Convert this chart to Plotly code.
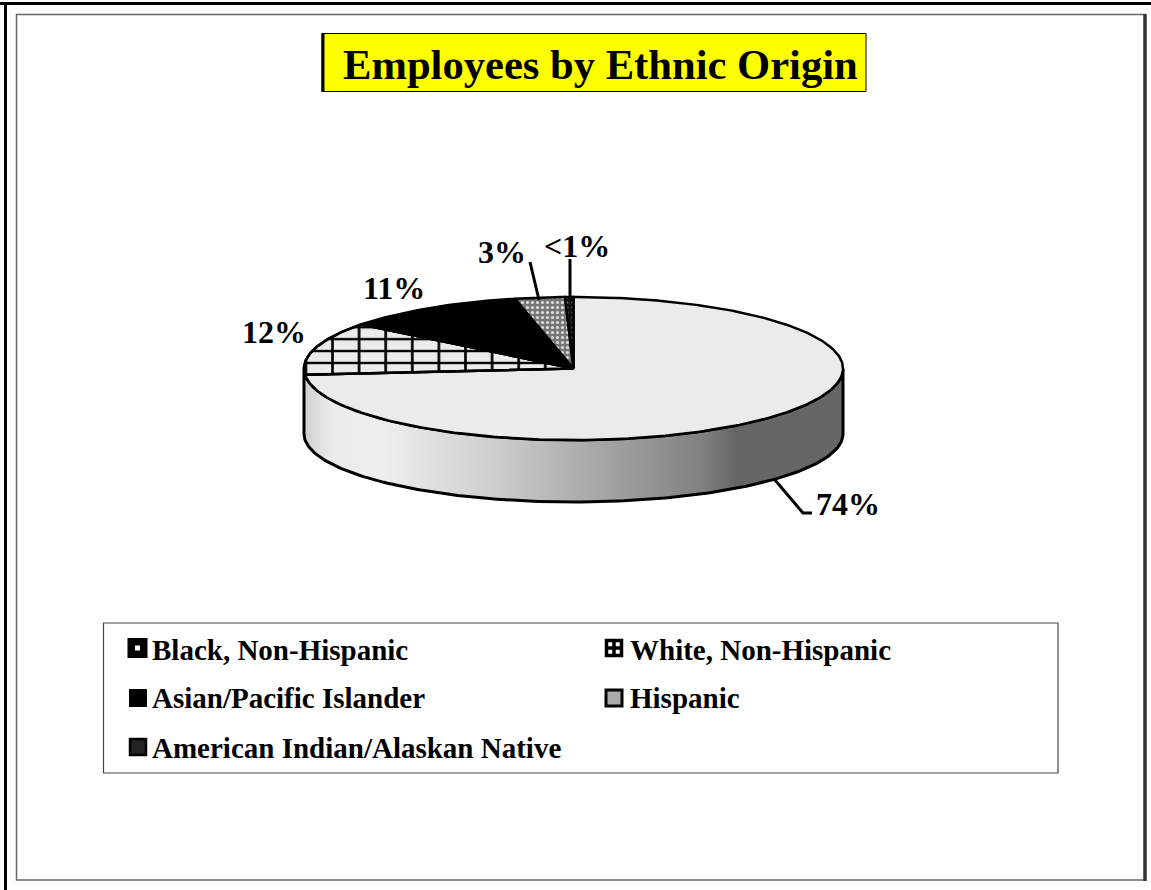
import numpy as np
import plotly.graph_objects as go

categories = ["Black, Non-Hispanic", "White, Non-Hispanic", "Asian/Pacific Islander",
              "Hispanic", "American Indian/Alaskan Native"]
values = [74, 12, 11, 3, 0.5]
labels = ["74%", "12%", "11%", "3%", "<1%"]

W, H = 1151, 890
CX, CY, RX, RY = 573.5, 368.5, 269.5, 71.5
BOTTOM_CY, BOTTOM_RY = 434, 68
SERIF = "Liberation Serif"
TOP = "#ebebeb"


def ell(turn_from, turn_to, n=160, cy=CY, ry=RY):
    t = np.linspace(turn_from, turn_to, n) * 2 * np.pi
    return CX + RX * np.sin(t), cy - ry * np.cos(t)


fig = go.Figure()

# rim
xa, ya = ell(0.25, 0.75)
xb, yb = ell(0.75, 0.25, cy=BOTTOM_CY, ry=BOTTOM_RY)
fig.add_trace(go.Scatter(
    x=np.r_[xa, xb, xa[0]], y=np.r_[ya, yb, ya[0]], mode="lines", fill="toself",
    line=dict(color="black", width=3),
    fillgradient=dict(type="horizontal", colorscale=[
        [0, "#d0d0d0"], [0.05, "#ebebeb"], [0.15, "#eeeeee"], [0.36, "#cccccc"],
        [0.53, "#aaaaaa"], [0.74, "#808080"], [0.80, "#666666"], [1, "#666666"]]),
    hoverinfo="skip", showlegend=False))

# top slices
fractions = np.array(values) / sum(values)
edges = np.r_[0, np.cumsum(fractions)]
patterns = [
    [dict(shape="", bgcolor=TOP)],
    [dict(shape="|", size=26.6, solidity=0.1, fgcolor="black", bgcolor=TOP, fgopacity=1),
     dict(shape="-", size=11.9, solidity=0.2, fgcolor="black", bgcolor="rgba(0,0,0,0)", fgopacity=1)],
    [dict(shape="", bgcolor="black")],
    [dict(shape=".", size=5, solidity=0.3, fgcolor="#dddddd", bgcolor="#777777", fgopacity=1)],
    [dict(shape=".", size=5, solidity=0.12, fgcolor="#888888", bgcolor="#111111", fgopacity=1)],
]
for i, name in enumerate(categories):
    ex, ey = ell(edges[i], edges[i + 1], n=max(8, int(400 * fractions[i])))
    px, py = np.r_[CX, ex, CX], np.r_[CY, ey, CY]
    for p in patterns[i]:
        fig.add_trace(go.Scatter(
            x=px, y=py, mode="lines", fill="toself", name=name,
            line=dict(color="black", width=2.5),
            fillcolor=p["bgcolor"],
            fillpattern=dict(shape=p["shape"], size=p.get("size", 8), solidity=p.get("solidity", 0.3),
                             fgcolor=p.get("fgcolor", "black"), bgcolor=p["bgcolor"],
                             fgopacity=p.get("fgopacity", 1)),
            showlegend=False, hoverinfo="text", text=name))

# leader lines
leaders = [([775, 803, 812], [480, 513, 513]), ([530, 539], [262, 300]), ([570, 570], [259, 298])]
for lx, ly in leaders:
    fig.add_trace(go.Scatter(x=lx, y=ly, mode="lines", line=dict(color="black", width=3),
                             hoverinfo="skip", showlegend=False))

# legend swatches
swatch_x = [137.5, 614, 138, 614, 138]
swatch_y = [648, 648, 698, 698, 747]
swatch_sym = ["square", "square-cross", "square", "square", "square"]
swatch_fill = ["white", "white", "black", "#aaaaaa", "#222222"]
swatch_size = [12.5, 15, 16, 16, 16]
swatch_line = [7.5, 3.5, 2, 3, 2.5]
for i in range(5):
    fig.add_trace(go.Scatter(
        x=[swatch_x[i]], y=[swatch_y[i]], mode="markers",
        marker=dict(symbol=swatch_sym[i], size=swatch_size[i], color=swatch_fill[i],
                    line=dict(color="black", width=swatch_line[i])),
        hoverinfo="skip", showlegend=False))

annotations = [
    dict(x=600, y=64, text="<b>Employees by Ethnic Origin</b>", font=dict(size=42.6), xanchor="center"),
]
label_pos = [(848, 504), (274, 332), (394, 288), (502, 252), (577, 246)]
for lab, (lx, ly) in zip(labels, label_pos):
    annotations.append(dict(x=lx, y=ly, text=f"<b>{lab.replace('<', '&lt;')}</b>",
                            font=dict(size=32), xanchor="center"))
text_x = [150, 628, 150, 628, 150]
text_y = [650, 650, 698, 698, 748]
for i, name in enumerate(categories):
    annotations.append(dict(x=text_x[i], y=text_y[i], text=f"<b>{name}</b>",
                            font=dict(size=29), xanchor="left"))
for a in annotations:
    a.update(xref="x", yref="y", showarrow=False, yanchor="middle")
    a["font"].update(family=SERIF, color="black")

shapes = [
    # page frames
    dict(type="line", x0=0, x1=W, y0=3.5, y1=3.5, line=dict(color="black", width=3)),
    dict(type="line", x0=5.5, x1=5.5, y0=2, y1=H, line=dict(color="black", width=3)),
    dict(type="rect", x0=16.5, x1=1145, y0=14.5, y1=880, line=dict(color="#666666", width=1.5)),
    dict(type="line", x0=1145, x1=1145, y0=14, y1=881, line=dict(color="#333333", width=3.5)),
    # title box
    dict(type="rect", x0=322, x1=866, y0=33.5, y1=91.5, fillcolor="#ffff00",
         line=dict(color="black", width=1), layer="below"),
    dict(type="line", x0=323, x1=323, y0=33, y1=92, line=dict(color="black", width=3)),
    # legend box
    dict(type="rect", x0=103.5, x1=1058, y0=623, y1=773, line=dict(color="#444444", width=1.2)),
]

fig.update_layout(
    width=W, height=H, autosize=False,
    margin=dict(l=0, r=0, t=0, b=0),
    paper_bgcolor="white", plot_bgcolor="white",
    xaxis=dict(range=[0, W], visible=False, fixedrange=True),
    yaxis=dict(range=[H, 0], visible=False, fixedrange=True),
    annotations=annotations, shapes=shapes, showlegend=False,
)
fig.write_html("out.html", config=dict(displayModeBar=False),
               post_script="document.body.style.margin='0';document.body.style.overflow='hidden';")
